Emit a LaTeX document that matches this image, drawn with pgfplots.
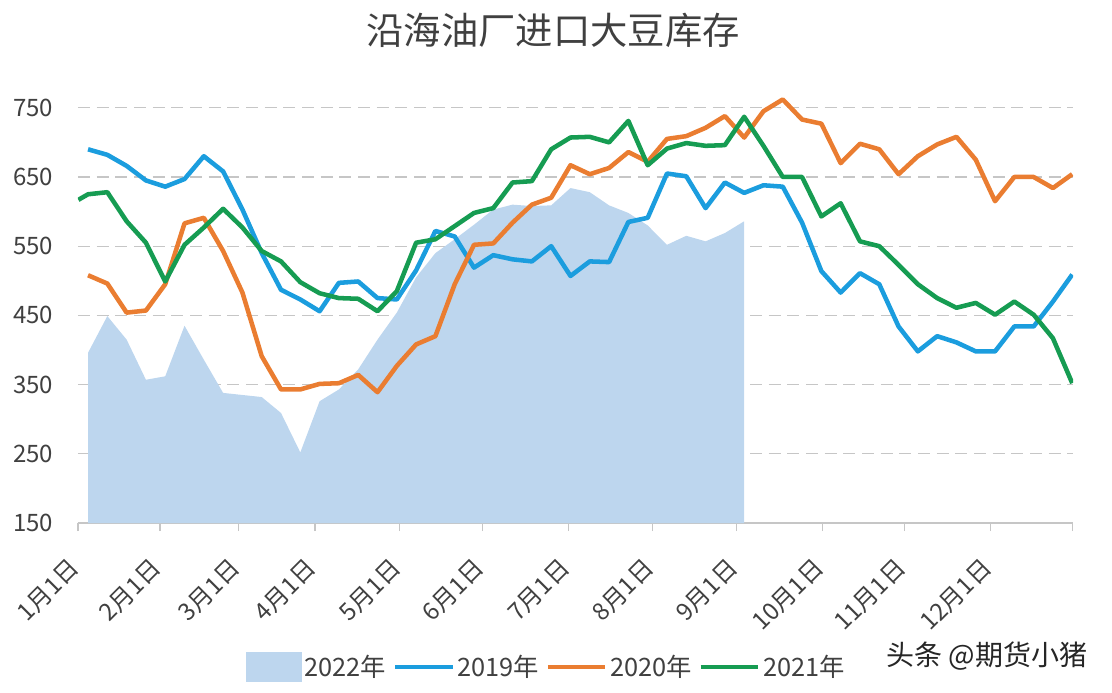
\documentclass[border=0pt]{standalone}
\usepackage{fontspec}
\setmainfont{Noto Sans CJK SC}
\usepackage{pgfplots}
\pgfplotsset{compat=1.18}
\definecolor{c19}{RGB}{27,157,222}
\definecolor{c20}{RGB}{234,125,49}
\definecolor{c21}{RGB}{22,156,82}
\definecolor{c22}{RGB}{189,214,238}
\definecolor{txt}{RGB}{64,64,64}
\begin{document}
\begin{tikzpicture}
\useasboundingbox (0pt,0pt) rectangle (834pt,-519pt);
\node[font=\fontsize{28}{30}\selectfont, text=txt] at (414.75pt,-22.5pt) {沿海油厂进口大豆库存};
\node[font=\fontsize{21}{23}\selectfont, text=black!85] at (740pt,-492pt) {头条 @期货小猪};
\begin{axis}[
  at={(58.5pt,-392.25pt)}, anchor=south west,
  scale only axis, width=746.25pt, height=327pt,
  xmin=-0.52, xmax=51.04, ymin=150, ymax=780,
  axis x line*=bottom, axis y line*=left,
  y axis line style={draw=none},
  x axis line style={draw=gray!45, line width=0.8pt},
  xtick={-0.52,3.73,7.82,11.76,16.16,20.46,24.9,29.26,33.6,38.06,42.3,46.76,51.0},
  xticklabels={1月1日,2月1日,3月1日,4月1日,5月1日,6月1日,7月1日,8月1日,9月1日,10月1日,11月1日,12月1日,{}},
  ytick={150,250,350,450,550,650,750},
  tick align=outside, major tick length=6pt,
  xtick style={draw=gray!45, line width=0.8pt},
  ytick style={draw=none},
  ymajorgrids, grid style={gray!45, dash pattern=on 9pt off 5pt, line width=0.8pt},
  tick label style={font=\fontsize{18}{20}\selectfont, text=txt},
  /pgf/number format/assume math mode=true,
  yticklabel style={xshift=-9pt},
  xticklabel style={yshift=-22pt, rotate=45, anchor=east},
  legend style={at={(0.471,-0.33)}, anchor=center, draw=none, fill=none,
    font=\fontsize{19}{21}\selectfont, text=txt, legend columns=4,
    /tikz/every even column/.append style={column sep=3pt}},
]
\addplot[fill=c22, draw=none, legend image code/.code={\fill[c22] (0pt,-11pt) rectangle (42pt,11pt);}] coordinates {
(0,396)(1,449)(2,415)(3,357)(4,362)(5,435)(6,386)(7,338)(8,335)(9,332)(10,309)(11,252)(12,326)(13,343)(14,372)(15,415)(16,454)(17,505)(18,540)(19,560)(20,581)(21,603)(22,610)(23,608)(24,609)(25,634)(26,628)(27,609)(28,598)(29,580)(30,552)(31,565)(32,557)(33,569)(34,586)
} \closedcycle;
\addlegendentry{2022年}
\addplot[c19, line width=3.4pt, line join=round, no marks, legend image code/.code={\draw[c19,line width=3.4pt] (0pt,0pt) -- (43pt,0pt);}] coordinates {
(0,690)(1,682)(2,666)(3,645)(4,636)(5,647)(6,680)(7,658)(8,603)(9,540)(10,487)(11,473)(12,456)(13,497)(14,499)(15,475)(16,473)(17,515)(18,572)(19,564)(20,519)(21,537)(22,531)(23,528)(24,550)(25,507)(26,528)(27,527)(28,585)(29,591)(30,655)(31,651)(32,605)(33,642)(34,627)(35,638)(36,636)(37,584)(38,514)(39,483)(40,511)(41,495)(42,434)(43,398)(44,420)(45,411)(46,398)(47,398)(48,434)(49,434)(50,470)(51,509)
};
\addlegendentry{2019年}
\addplot[c20, line width=3.4pt, line join=round, no marks, legend image code/.code={\draw[c20,line width=3.4pt] (0pt,0pt) -- (43pt,0pt);}] coordinates {
(0,508)(1,496)(2,454)(3,457)(4,495)(5,583)(6,591)(7,543)(8,483)(9,391)(10,343)(11,343)(12,351)(13,352)(14,364)(15,339)(16,377)(17,408)(18,420)(19,495)(20,552)(21,554)(22,584)(23,610)(24,620)(25,667)(26,654)(27,663)(28,686)(29,672)(30,705)(31,709)(32,721)(33,738)(34,707)(35,745)(36,762)(37,733)(38,727)(39,670)(40,698)(41,690)(42,654)(43,680)(44,697)(45,708)(46,675)(47,615)(48,650)(49,650)(50,634)(51,654)
};
\addlegendentry{2020年}
\addplot[c21, line width=3.4pt, line join=round, no marks, legend image code/.code={\draw[c21,line width=3.4pt] (0pt,0pt) -- (43pt,0pt);}] coordinates {
(-0.5,617)(0,625)(1,628)(2,586)(3,555)(4,499)(5,552)(6,577)(7,604)(8,577)(9,543)(10,528)(11,498)(12,482)(13,475)(14,474)(15,456)(16,485)(17,555)(18,560)(19,579)(20,598)(21,605)(22,642)(23,644)(24,690)(25,707)(26,708)(27,700)(28,731)(29,667)(30,691)(31,699)(32,695)(33,696)(34,737)(35,695)(36,650)(37,650)(38,593)(39,612)(40,557)(41,550)(42,523)(43,495)(44,475)(45,461)(46,468)(47,451)(48,470)(49,451)(50,417)(51,352)
};
\addlegendentry{2021年}
\end{axis}
\end{tikzpicture}
\end{document}
